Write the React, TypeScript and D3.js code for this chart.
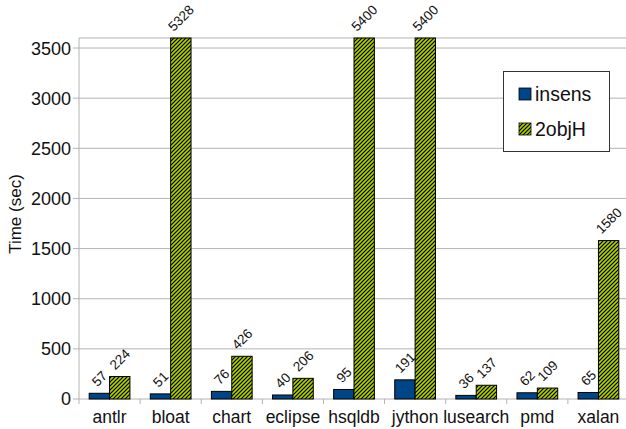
import { useMemo } from 'react'
import * as d3 from 'd3'

// data
const benchmarks = ['antlr', 'bloat', 'chart', 'eclipse', 'hsqldb', 'jython', 'lusearch', 'pmd', 'xalan']
const insensTimes = [57, 51, 76, 40, 95, 191, 36, 62, 65]
const twoObjHTimes = [224, 5328, 426, 206, 5400, 5400, 137, 109, 1580]
const seriesNames = ['insens', '2objH']
const yTicks = [0, 500, 1000, 1500, 2000, 2500, 3000, 3500]
const yMax = 3600

const width = 626
const height = 429
const margin = { left: 79, right: -3, top: 38, bottom: 30 }
const font = '"Liberation Sans", Arial, sans-serif'
const gridColor = '#b3b3b3'
const blue = '#004586'
const green = '#aecf00'

function App() {
  const x0 = useMemo(() => d3.scaleBand().domain(benchmarks).range([margin.left, width - margin.right]).padding(0), [])
  const x1 = useMemo(() => d3.scaleBand().domain(seriesNames).range([0, x0.bandwidth()]).paddingInner(0).paddingOuter(0.5), [x0])
  const y = useMemo(() => d3.scaleLinear().domain([0, yMax]).range([height - margin.bottom, margin.top]), [])

  const bars: any[] = []
  benchmarks.forEach((b, i) => {
    const vals = [insensTimes[i], twoObjHTimes[i]]
    vals.forEach((v, j) => {
      const s = seriesNames[j]
      bars.push({ bench: b, series: s, value: v, x: x0(b)! + x1(s)!, top: y(Math.min(v, yMax)) })
    })
  })

  const y0 = y(0)
  const labelSize = 13.5

  return (
    <svg width={width} height={height} style={{ position: 'absolute', left: 0, top: 0, background: 'white' }} fontFamily={font}>
      <defs>
        <pattern id="hatch" patternUnits="userSpaceOnUse" width={4} height={4}>
          <rect width={4} height={4} fill={green} />
          <path d="M-1,1 l2,-2 M0,4 l4,-4 M3,5 l2,-2" stroke="black" strokeWidth={1.2} />
        </pattern>
      </defs>
      {/* grid */}
      {yTicks.map(t => (
        <line key={'g' + t} x1={margin.left} x2={width} y1={y(t)} y2={y(t)} stroke={gridColor} strokeWidth={1} />
      ))}
      <line x1={margin.left} x2={width} y1={y(yMax)} y2={y(yMax)} stroke={gridColor} />
      <line x1={margin.left} x2={margin.left} y1={y(yMax)} y2={y0} stroke={gridColor} />
      {/* y ticks */}
      {yTicks.map(t => (
        <g key={'t' + t}>
          <line x1={margin.left - 6} x2={margin.left} y1={y(t)} y2={y(t)} stroke={gridColor} />
          <text x={margin.left - 8} y={y(t)} dy="0.36em" textAnchor="end" fontSize={18} fill="#111">{t}</text>
        </g>
      ))}
      {/* x ticks at category boundaries */}
      {benchmarks.map(b => (
        <line key={'xt' + b} x1={x0(b)} x2={x0(b)} y1={y0} y2={y0 + 5} stroke={gridColor} />
      ))}
      {benchmarks.map(b => (
        <text key={'xl' + b} x={x0(b)! + x0.bandwidth() / 2} y={423} textAnchor="middle" fontSize={17.5} fill="#111">{b}</text>
      ))}
      <text transform={`translate(21,214) rotate(-90)`} textAnchor="middle" fontSize={17} fill="#111">Time (sec)</text>
      {/* bars */}
      {bars.map((d, i) => (
        <rect key={'b' + i} x={d.x} y={d.top} width={x1.bandwidth()} height={y0 - d.top}
          fill={d.series === 'insens' ? blue : 'url(#hatch)'} stroke="black" strokeWidth={1} />
      ))}
      {/* value labels, rotated */}
      {bars.map((d, i) => {
        const w = String(d.value).length * 0.556 * labelSize
        const box = (w + 0.72 * labelSize) * 0.707
        const cx = d.x + x1.bandwidth() / 2
        const cy = d.top - 6 - box / 2
        return (
          <text key={'l' + i} transform={`translate(${cx},${cy}) rotate(-45)`} textAnchor="middle" dy="0.36em"
            fontSize={labelSize} fill="#111">{d.value}</text>
        )
      })}
      {/* legend */}
      <g>
        <rect x={503.5} y={71.5} width={106} height={80} fill="white" stroke="#333" strokeWidth={1} />
        {seriesNames.map((s, i) => (
          <g key={'lg' + s} transform={`translate(519,${88 + i * 35})`}>
            <rect width={12} height={12} fill={i === 0 ? blue : 'url(#hatch)'} stroke="black" strokeWidth={0.8} />
            <text x={16} y={13} fontSize={19.5} fill="#111">{s}</text>
          </g>
        ))}
      </g>
    </svg>
  )
}

export default App
